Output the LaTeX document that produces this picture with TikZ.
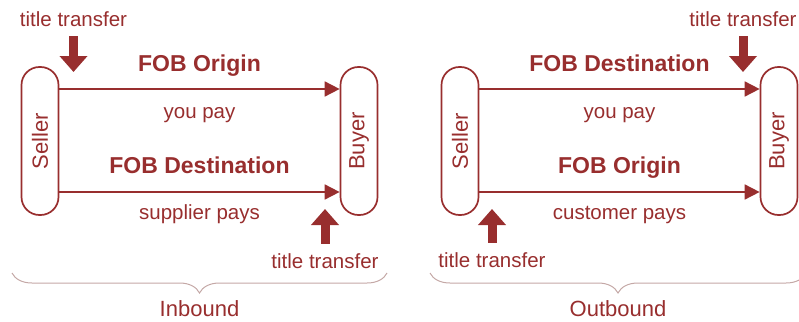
\documentclass[tikz,border=0pt]{standalone}
\usepackage{fontspec}
\setmainfont{Liberation Sans}
\usepackage{tikz}
\usetikzlibrary{arrows.meta}
\usetikzlibrary{decorations.pathreplacing}
\definecolor{fobred}{HTML}{982E2E}
\definecolor{bracegray}{HTML}{C4A8A6}

\begin{document}
\begin{tikzpicture}[x=1pt, y=-1pt,
  party/.style={draw=fobred, line width=1.7pt, rounded corners=18pt, minimum width=37pt, minimum height=148pt, inner sep=0pt, text=fobred, font=\fontsize{22}{26}\selectfont},
  txt/.style={text=fobred, inner sep=0pt, anchor=base, font=\fontsize{20.5}{24}\selectfont},
  fob/.style={txt, font=\fontsize{23}{27}\selectfont\bfseries},
  flow/.style={fobred, line width=1.7pt, -{Triangle[length=15pt,width=15pt]}},
  transfer/.style={draw=fobred, line width=9pt, -{Triangle[length=16pt,width=27pt]}},
  side/.style={draw=bracegray, line width=1pt, decorate, decoration={brace, mirror, amplitude=20pt}}]
\useasboundingbox (0,0) rectangle (799,321);

% inbound
\node[party] (sellerL) at (40,141) {\rotatebox{90}{Seller}};
\node[party] (buyerL) at (359,141) {\rotatebox{90}{Buyer}};
\path[flow]
([yshift=52pt]sellerL.east) edge node[fob, yshift=18pt]{FOB Origin} node[txt, yshift=-29pt]{you pay} ([yshift=52pt]buyerL.west)
([yshift=-51pt]sellerL.east) edge node[fob, yshift=19pt]{FOB Destination} node[txt, yshift=-27pt]{supplier pays} ([yshift=-51pt]buyerL.west);
\node[txt] (ttL) at (73.5,27) {title transfer};
\coordinate (tipL) at (73.5,72);
\draw[transfer] ([yshift=-9pt]ttL.south) -- (tipL);
\node[txt] (ttLb) at (325,268) {title transfer};
\coordinate (tipLb) at (325,209);
\draw[transfer] ([yshift=9pt]ttLb.north) -- (tipLb);
\draw[side] (12,273) -- (387,273);
\node[txt, font=\fontsize{22}{26}\selectfont] (inbound) at (199.5,316) {Inbound};

% outbound
\node[party] (sellerR) at (460,141) {\rotatebox{90}{Seller}};
\node[party] (buyerR) at (779,141) {\rotatebox{90}{Buyer}};
\path[flow]
([yshift=52pt]sellerR.east) edge node[fob, yshift=18pt]{FOB Destination} node[txt, yshift=-29pt]{you pay} ([yshift=52pt]buyerR.west)
([yshift=-51pt]sellerR.east) edge node[fob, yshift=19pt]{FOB Origin} node[txt, yshift=-27pt]{customer pays} ([yshift=-51pt]buyerR.west);
\node[txt] (ttR) at (743,27) {title transfer};
\coordinate (tipR) at (743,72);
\draw[transfer] ([yshift=-9pt]ttR.south) -- (tipR);
\node[txt] (ttRb) at (492,267) {title transfer};
\coordinate (tipRb) at (492,209);
\draw[transfer] ([yshift=9pt]ttRb.north) -- (tipRb);
\draw[side] (430,273) -- (806,273);
\node[txt, font=\fontsize{22}{26}\selectfont] (outbound) at (618,316) {Outbound};
\end{tikzpicture}
\end{document}
